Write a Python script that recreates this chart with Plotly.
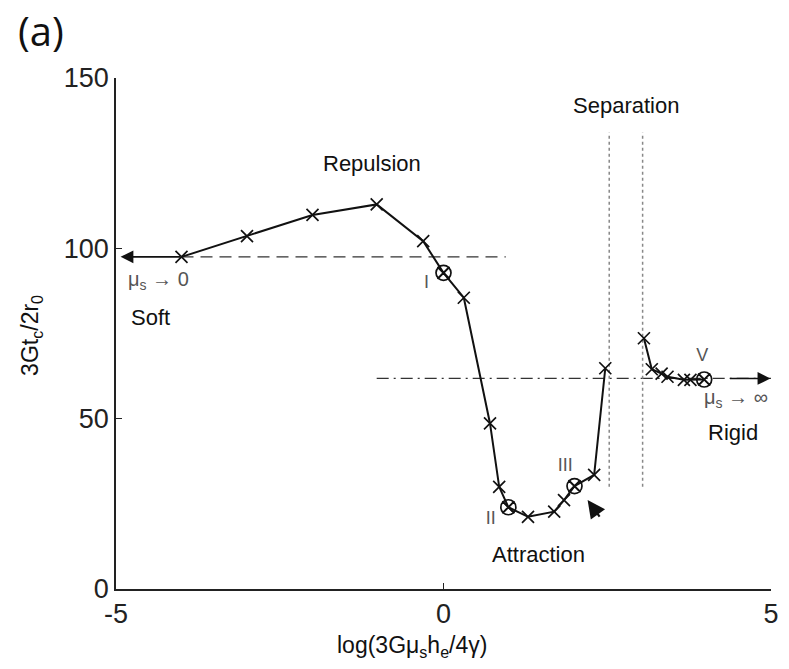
import plotly.graph_objects as go

# ---- data ----
branch1_x = [-4.0, -3.0, -2.0, -1.02, -0.31, 0.0, 0.31, 0.71, 0.85, 0.99, 1.29, 1.69, 1.84, 2.0, 2.30, 2.47]
branch1_y = [97.5, 103.6, 109.8, 112.9, 102.1, 92.8, 85.5, 48.6, 30.0, 24.0, 21.2, 22.7, 26.1, 30.2, 33.5, 64.8]
branch2_x = [3.06, 3.18, 3.33, 3.42, 3.67, 3.77, 3.98]
branch2_y = [73.6, 64.5, 63.2, 62.3, 61.4, 61.4, 61.5]

circle_x = [0.0, 0.99, 2.0, 3.98]
circle_y = [92.8, 24.0, 30.2, 61.5]
circle_labels = ["I", "II", "III", "V"]
circle_label_x = [-0.26, 0.72, 1.86, 3.95]
circle_label_y = [89.8, 20.3, 35.9, 68.2]

soft_level = 97.5
soft_line_x = [-4.0, 0.95]
rigid_level = 61.8
rigid_line_x = [-1.02, 5.0]
separation_x = [2.53, 3.04]
separation_y = [30.0, 134.0]

x_ticks = [-5, 0, 5]
y_ticks = [0, 50, 100, 150]

FONT = "Liberation Sans, Arial, sans-serif"
BLACK = "#111111"
GREY = "#555555"

fig = go.Figure()

# reference lines
fig.add_trace(go.Scatter(x=soft_line_x, y=[soft_level, soft_level], mode="lines",
                         line=dict(color="#333333", width=1.3, dash="12px,7px"),
                         hoverinfo="skip", showlegend=False))
fig.add_trace(go.Scatter(x=rigid_line_x, y=[rigid_level, rigid_level], mode="lines",
                         line=dict(color="#333333", width=1.3, dash="12px,5px,2px,5px"),
                         hoverinfo="skip", showlegend=False))
for sx in separation_x:
    fig.add_trace(go.Scatter(x=[sx, sx], y=separation_y, mode="lines",
                             line=dict(color="#888888", width=1.5, dash="dot"),
                             hoverinfo="skip", showlegend=False))

# data branches
for bx, by in [(branch1_x, branch1_y), (branch2_x, branch2_y)]:
    fig.add_trace(go.Scatter(x=bx, y=by, mode="lines+markers",
                             line=dict(color=BLACK, width=2),
                             marker=dict(symbol="x-thin-open", size=12,
                                         line=dict(color=BLACK, width=1.7)),
                             showlegend=False))

# circled points
fig.add_trace(go.Scatter(x=circle_x, y=circle_y, mode="markers",
                         marker=dict(symbol="circle-x-open", size=15, color=BLACK,
                                     line=dict(color=BLACK, width=1.7)),
                         showlegend=False))

# text labels for circled points
fig.add_trace(go.Scatter(x=circle_label_x, y=circle_label_y, mode="text",
                         text=circle_labels,
                         textfont=dict(family=FONT, size=18, color=GREY),
                         showlegend=False))

annotations = []


def label(x, y, text, size=22, color=BLACK, xanchor="center"):
    annotations.append(dict(x=x, y=y, xref="x", yref="y", text=text, showarrow=False,
                            xanchor=xanchor, yanchor="middle",
                            font=dict(family=FONT, size=size, color=color)))


label(-1.09, 125, "Repulsion")
label(2.79, 142, "Separation")
label(1.45, 10, "Attraction")
label(-4.8, 79.8, "Soft", xanchor="left")
label(4.42, 45.8, "Rigid")
label(-4.85, 90.7, "μ<sub>s</sub> → 0", size=20, color=GREY, xanchor="left")
label(4.47, 56.0, "μ<sub>s</sub> → ∞", size=20, color=GREY)

# arrows
annotations.append(dict(x=-4.93, y=soft_level, ax=-4.0, ay=soft_level, xref="x", yref="y",
                        axref="x", ayref="y", text="", showarrow=True, arrowhead=2,
                        arrowsize=1.6, arrowwidth=1.6, arrowcolor=BLACK))
annotations.append(dict(x=4.99, y=rigid_level, ax=4.35, ay=rigid_level, xref="x", yref="y",
                        axref="x", ayref="y", text="", showarrow=True, arrowhead=2,
                        arrowsize=1.6, arrowwidth=1.6, arrowcolor=BLACK))
# cursor-like arrow
annotations.append(dict(x=2.20, y=26.1, ax=2.40, ay=20.8, xref="x", yref="y",
                        axref="x", ayref="y", text="", showarrow=True, arrowhead=2,
                        arrowsize=1.6, arrowwidth=2.2, arrowcolor=BLACK))

# panel label and axis titles
annotations.append(dict(x=-0.1146, y=1.092, xref="paper", yref="paper", text="(a)",
                        showarrow=False, xanchor="center", yanchor="middle",
                        font=dict(family="Open Sans, sans-serif", size=40, color=BLACK)))
annotations.append(dict(x=0.4525, y=-0.113, xref="paper", yref="paper",
                        text="log(3Gμ<sub>s</sub>h<sub>e</sub>/4γ)",
                        showarrow=False, xanchor="center", yanchor="middle",
                        font=dict(family=FONT, size=23, color=BLACK)))
annotations.append(dict(x=-0.13, y=0.497, xref="paper", yref="paper",
                        text="3Gt<sub>c</sub>/2r<sub>0</sub>", textangle=-90,
                        showarrow=False, xanchor="center", yanchor="middle",
                        font=dict(family=FONT, size=23, color=BLACK)))

fig.update_layout(
    width=789, height=669,
    margin=dict(l=116, r=10, t=78, b=80),
    paper_bgcolor="white", plot_bgcolor="white",
    annotations=annotations,
    showlegend=False,
)
fig.update_xaxes(range=[-5, 5], tickvals=x_ticks, ticktext=[str(v) for v in x_ticks],
                 showgrid=False, zeroline=False, showline=True, linecolor="#222222",
                 linewidth=1.5, ticks="inside", ticklen=6, tickwidth=1.3, tickcolor="#222222",
                 tickfont=dict(family=FONT, size=27, color="#222222"))
fig.update_yaxes(range=[0, 150], tickvals=y_ticks, ticktext=[str(v) for v in y_ticks],
                 showgrid=False, zeroline=False, showline=True, linecolor="#222222",
                 linewidth=1.5, ticks="inside", ticklen=6, tickwidth=1.3, tickcolor="#222222",
                 tickfont=dict(family=FONT, size=27, color="#222222"))

fig.write_html("out.html")
